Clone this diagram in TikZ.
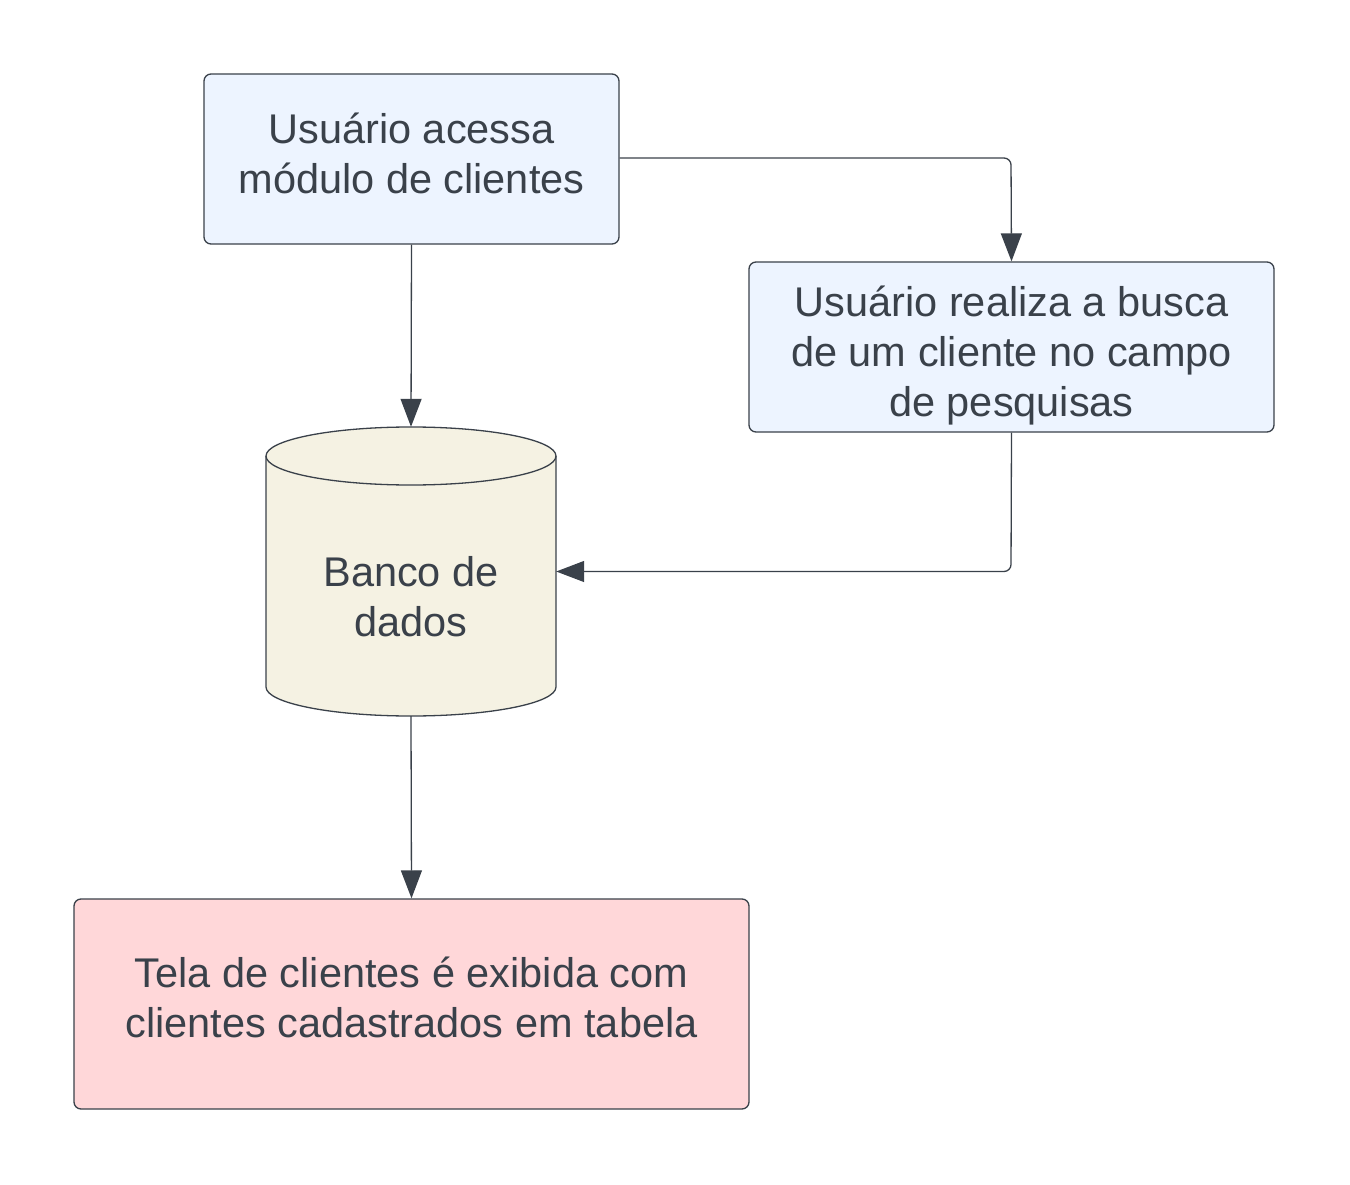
\documentclass[tikz,border=0pt]{standalone}
\usepackage{fontspec}
\setmainfont{Liberation Sans}
\usetikzlibrary{arrows.meta}
\definecolor{ink}{HTML}{3A414A}
\definecolor{bluefill}{HTML}{EDF4FF}
\definecolor{dbfill}{HTML}{F5F2E3}
\definecolor{pinkfill}{HTML}{FFD7D9}
\tikzset{
  box/.style={draw=ink, line width=1.3pt, rounded corners=7pt, inner sep=0pt},
  txt/.style={align=center, text=ink, inner sep=0pt, font=\fontsize{41.5}{50}\selectfont},
  conn/.style={draw=ink, line width=1.3pt, -{Triangle[length=28pt,width=21pt]}, rounded corners=7pt},
}
\begin{document}
\begin{tikzpicture}[x=1pt,y=-1pt]
\useasboundingbox (0,0) rectangle (1350,1185);
\node[box, fill=bluefill, minimum width=415pt, minimum height=170pt] (a) at (411.5,159) {};
\node[txt] (at) at (411.5,153) {Usuário acessa\\módulo de clientes};
\node[box, fill=bluefill, minimum width=525pt, minimum height=170pt] (b) at (1011.5,347) {};
\node[txt] (bt) at (1011.5,356) {Usuário realiza a busca\\de um cliente no campo\\de pesquisas};
\node[box, fill=pinkfill, minimum width=675pt, minimum height=210pt] (c) at (411.5,1004) {};
\node[txt] (ct) at (411.5,997) {Tela de clientes é exibida com\\clientes cadastrados em tabela};
% database cylinder
\node[inner sep=0pt, minimum width=290pt, minimum height=289pt] (db) at (411,571.5) {};
\path[draw=ink, line width=1.3pt, fill=dbfill]
  (266,456) -- (266,687) arc[start angle=180, end angle=0, x radius=145, y radius=29]
  -- (556,456) arc[start angle=0, end angle=-180, x radius=145, y radius=29] -- cycle;
\draw[ink, line width=1.3pt] (266,456) arc[start angle=180, end angle=0, x radius=145, y radius=29];
\node[txt] (dbl) at (411,597) {Banco de\\dados};
% connectors
\draw[conn] (a.south) -- (db.north);
\draw[conn] (a.east |- 0,158) -- (1011,158) -- (b.north);
\draw[conn] (b.south) -- (1011,571.5) -- (db.east);
\draw[conn] (db.south) -- (c.north);
\end{tikzpicture}
\end{document}
